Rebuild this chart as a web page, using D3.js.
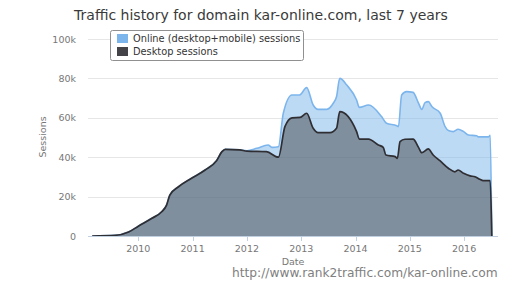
<!DOCTYPE html>
<html>
<head>
<meta charset="utf-8">
<script src="https://cdn.jsdelivr.net/npm/d3@7"></script>
<style>
html,body{margin:0;padding:0;background:#fff;}
svg{display:block;}
text{font-family:"DejaVu Sans","Lucida Grande",Verdana,sans-serif;}
</style>
</head>
<body>
<svg id="chart" width="530" height="282"></svg>
<script>
// ---- data (dates as decimal years) ----
const title = "Traffic history for domain kar-online.com, last 7 years";
const seriesNames = ["Online (desktop+mobile) sessions", "Desktop sessions"];
const yTicks = [0, 20000, 40000, 60000, 80000, 100000];
const yTickLabels = ["0", "20k", "40k", "60k", "80k", "100k"];
const xTicks = [2010, 2011, 2012, 2013, 2014, 2015, 2016];

const desktopDates = [2009.15, 2009.57, 2009.82, 2010.0, 2010.25, 2010.43, 2010.52, 2010.58, 2010.74, 2010.98,
  2011.23, 2011.44, 2011.54, 2011.60, 2011.87, 2012.0, 2012.36, 2012.58, 2012.70, 2012.83, 2012.98,
  2013.10, 2013.22, 2013.31, 2013.53, 2013.65, 2013.71, 2014.02, 2014.07, 2014.24, 2014.42, 2014.51,
  2014.56, 2014.73, 2014.77, 2014.82, 2014.91, 2015.06, 2015.16, 2015.22, 2015.34, 2015.43, 2015.56,
  2015.71, 2015.83, 2015.89, 2015.99, 2016.11, 2016.20, 2016.29, 2016.35, 2016.48, 2016.51];
const desktopValues = [0, 300, 2000, 5000, 9000, 12300, 15700, 20800, 25000, 29300,
  33500, 38200, 42800, 44000, 43700, 43100, 42800, 40000, 55500, 60000, 60200,
  62300, 54700, 52500, 52500, 54700, 63100, 53000, 49200, 49200, 46200, 45000,
  41100, 40300, 39400, 47900, 49100, 49200, 45000, 42300, 44200, 41100, 38100,
  34400, 32600, 33500, 31800, 30500, 30100, 28800, 28100, 28100, 0];

const onlineDates = [2009.15, 2009.57, 2009.82, 2010.0, 2010.25, 2010.43, 2010.52, 2010.58, 2010.74, 2010.98,
  2011.23, 2011.44, 2011.54, 2011.60, 2011.87, 2012.0, 2012.18, 2012.39, 2012.46, 2012.58, 2012.67,
  2012.83, 2012.97, 2013.10, 2013.22, 2013.31, 2013.47, 2013.59, 2013.65, 2013.71, 2013.84, 2014.02,
  2014.07, 2014.24, 2014.48, 2014.57, 2014.76, 2014.79, 2014.85, 2014.94, 2015.06, 2015.16, 2015.22,
  2015.28, 2015.34, 2015.41, 2015.56, 2015.65, 2015.71, 2015.80, 2015.89, 2015.99, 2016.08, 2016.23,
  2016.26, 2016.45, 2016.48, 2016.51];
const onlineValues = [0, 300, 2000, 5000, 9000, 12300, 15700, 20800, 25000, 29300,
  33500, 38200, 42800, 44000, 43800, 43300, 44500, 46200, 45000, 45300, 62300,
  71600, 71600, 75300, 66500, 64300, 64300, 67400, 70700, 80000, 76600, 69000,
  65300, 66500, 60600, 57200, 56000, 55500, 71600, 73300, 72900, 67400, 64300,
  67700, 68200, 65600, 62300, 55500, 53500, 53000, 54200, 53000, 51300, 50900,
  50300, 50300, 51100, 0];

// ---- layout ----
const svg = d3.select("#chart");
const pLeft = 90, pRight = 498, pTop = 39, pBottom = 236;

const x = d3.scaleLinear().domain([2009.11, 2016.624]).range([pLeft, pRight]);
const y = d3.scaleLinear().domain([0, 100000]).range([pBottom, pTop]);

// title
const t = svg.append("text").attr("x", 261).attr("y", 20).attr("text-anchor", "middle")
  .attr("fill", "#3a3a3a").style("font-size", "15px").text(title);
{
  const w = t.node().getComputedTextLength();
  t.style("font-size", (15 * 374 / w).toFixed(2) + "px");
}

// grid
svg.append("g").selectAll("line").data(yTicks.slice(1)).join("line")
  .attr("x1", pLeft - 2).attr("x2", pRight).attr("y1", d => Math.round(y(d)) + 0.5).attr("y2", d => Math.round(y(d)) + 0.5)
  .attr("stroke", "#e6e6e6").attr("stroke-width", 1);

// y labels
svg.append("g").selectAll("text").data(yTicks).join("text")
  .attr("x", 76).attr("y", d => y(d) + 3.5).attr("text-anchor", "end")
  .attr("fill", "#777").style("font-size", "9.5px").text((d, i) => yTickLabels[i]);

// y axis title
svg.append("text").attr("transform", "translate(46,137) rotate(-90)").attr("text-anchor", "middle")
  .attr("fill", "#777").style("font-size", "9.5px").text("Sessions");

// areas
const toPts = (ds, vs) => ds.map((d, i) => [d, vs[i]]);
const online = toPts(onlineDates, onlineValues);
const desktop = toPts(desktopDates, desktopValues);
const curve = d3.curveMonotoneX;
const area = d3.area().x(d => x(d[0])).y0(y(0)).y1(d => y(d[1])).curve(curve);
const line = d3.line().x(d => x(d[0])).y(d => y(d[1])).curve(curve);

svg.append("path").datum(online).attr("d", area).attr("fill", "#7cb5ec").attr("fill-opacity", 0.5);
svg.append("path").datum(online).attr("d", line).attr("fill", "none").attr("stroke", "#7cb5ec").attr("stroke-width", 1.6);
svg.append("path").datum(desktop).attr("d", area).attr("fill", "#434348").attr("fill-opacity", 0.5);
svg.append("path").datum(desktop).attr("d", line).attr("fill", "none").attr("stroke", "#2e2e33").attr("stroke-width", 1.7);

// x axis
const xAxis = svg.append("g").attr("transform", `translate(0,${pBottom})`);
xAxis.append("line").attr("x1", pLeft - 2).attr("x2", pRight).attr("y1", 0.5).attr("y2", 0.5).attr("stroke", "#c0d0e0");
xAxis.selectAll("line.tick").data(xTicks).join("line").attr("class", "tick")
  .attr("x1", d => Math.round(x(d)) + 0.5).attr("x2", d => Math.round(x(d)) + 0.5)
  .attr("y1", 0).attr("y2", 5).attr("stroke", "#c0d0e0");
xAxis.selectAll("text").data(xTicks).join("text")
  .attr("x", d => x(d)).attr("y", 16).attr("text-anchor", "middle")
  .attr("fill", "#777").style("font-size", "9.5px").text(d => d);

svg.append("text").attr("x", 293).attr("y", 265).attr("text-anchor", "middle")
  .attr("fill", "#777").style("font-size", "9.5px").text("Date");

// url
const u = svg.append("text").attr("x", 232).attr("y", 277).attr("fill", "#808080")
  .style("font-size", "12px").text("http://www.rank2traffic.com/kar-online.com");
{
  const w = u.node().getComputedTextLength();
  u.style("font-size", (12 * 266 / w).toFixed(2) + "px");
}

// legend
const lg = svg.append("g");
lg.append("rect").attr("x", 110.5).attr("y", 30.5).attr("width", 193).attr("height", 30).attr("rx", 2)
  .attr("fill", "#fff").attr("stroke", "#909090").attr("stroke-width", 1);
const colors = ["#7cb5ec", "#434348"];
seriesNames.forEach((n, i) => {
  lg.append("rect").attr("x", 117).attr("y", 34 + i * 13).attr("width", 11).attr("height", 9).attr("fill", colors[i]);
  lg.append("text").attr("x", 133).attr("y", 42 + i * 13).attr("fill", "#333").style("font-size", "9.8px").text(n);
});
</script>
</body>
</html>
